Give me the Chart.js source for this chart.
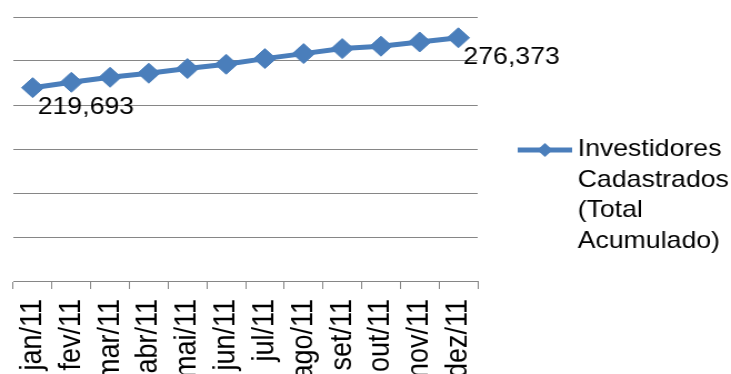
<!DOCTYPE html>
<html>
<head>
<meta charset="utf-8">
<title>Investidores Cadastrados</title>
<script src="https://cdn.jsdelivr.net/npm/chart.js@4.4.1/dist/chart.umd.min.js"></script>
<style>
  html, body { margin: 0; padding: 0; background: #fff; overflow: hidden; }
  #chart { display: block; }
</style>
</head>
<body>
<!-- drawn narrower and stretched out to the page width, like the exported sheet chart -->
<canvas id="chart" width="658" height="374" style="width:731px;height:374px"></canvas>
<script>
const months = ["jan/11", "fev/11", "mar/11", "abr/11", "mai/11", "jun/11",
  "jul/11", "ago/11", "set/11", "out/11", "nov/11", "dez/11"];
const investors = [219693, 225800, 231500, 236100, 241400, 246300,
  252700, 258400, 264100, 266800, 271600, 276373];
const seriesName = "Investidores Cadastrados (Total Acumulado)";
const legendLines = ["Investidores", "Cadastrados", "(Total", "Acumulado)"];
const labelledPoints = [0, 11];
const yMin = 0;
const yMax = 300000;
const yStep = 50000;

const BLUE = "#4a7ebb";
const GRAY = "#868686";
const FONT = "'Liberation Sans', Arial, sans-serif";

// value labels under/right of the first and last points
const pointLabels = {
  id: "pointLabels",
  afterDatasetsDraw(chart) {
    const { ctx } = chart;
    const meta = chart.getDatasetMeta(0);
    ctx.save();
    ctx.font = `24px ${FONT}`;
    ctx.fillStyle = "#000";
    ctx.textBaseline = "alphabetic";
    labelledPoints.forEach((i) => {
      const pt = meta.data[i];
      ctx.fillText(investors[i].toLocaleString("en-US"), pt.x + 4.5, pt.y + 26);
    });
    ctx.restore();
  },
};

// legend on the right, wrapped over several lines
const sideLegend = {
  id: "sideLegend",
  afterDraw(chart) {
    const { ctx, chartArea } = chart;
    const x0 = chartArea.right + 36;
    const x1 = x0 + 49;
    const cx = (x0 + x1) / 2;
    const ly = 150;

    ctx.save();
    ctx.strokeStyle = BLUE;
    ctx.lineWidth = 5;
    ctx.beginPath();
    ctx.moveTo(x0, ly);
    ctx.lineTo(x1, ly);
    ctx.stroke();

    ctx.fillStyle = BLUE;
    ctx.beginPath();
    ctx.moveTo(cx, ly - 7);
    ctx.lineTo(cx + 7, ly);
    ctx.lineTo(cx, ly + 7);
    ctx.lineTo(cx - 7, ly);
    ctx.closePath();
    ctx.fill();

    ctx.font = `24px ${FONT}`;
    ctx.fillStyle = "#000";
    ctx.textBaseline = "alphabetic";
    legendLines.forEach((line, i) => {
      ctx.fillText(line, x1 + 5, 156 + i * 30.7);
    });
    ctx.restore();
  },
};

new Chart(document.getElementById("chart").getContext("2d"), {
  type: "line",
  data: {
    labels: months,
    datasets: [
      {
        label: seriesName,
        data: investors,
        borderColor: BLUE,
        backgroundColor: BLUE,
        borderWidth: 5,
        tension: 0,
        pointStyle: "rectRot",
        pointRadius: 10,
        pointBorderWidth: 1,
        pointBackgroundColor: BLUE,
        pointBorderColor: BLUE,
      },
    ],
  },
  options: {
    responsive: false,
    animation: false,
    devicePixelRatio: 1,
    layout: { padding: { left: 12, right: 228, top: 17, bottom: 0 } },
    plugins: {
      legend: { display: false },
      tooltip: { enabled: false },
    },
    scales: {
      x: {
        offset: true,
        grid: {
          offset: true,
          drawOnChartArea: false,
          drawTicks: true,
          tickLength: 8,
          color: GRAY,
        },
        border: { color: GRAY },
        ticks: {
          autoSkip: false,
          minRotation: 90,
          maxRotation: 90,
          padding: 10,
          color: "#000",
          font: { family: FONT, size: 27 },
        },
        afterFit(scale) {
          // month labels run past the bottom edge and get cut off
          scale.height = 93;
        },
      },
      y: {
        min: yMin,
        max: yMax,
        ticks: { stepSize: yStep, display: false },
        grid: { color: GRAY, drawTicks: false },
        border: { display: false },
        afterFit(scale) {
          scale.width = 0;
        },
      },
    },
  },
  plugins: [pointLabels, sideLegend],
});
</script>
</body>
</html>
